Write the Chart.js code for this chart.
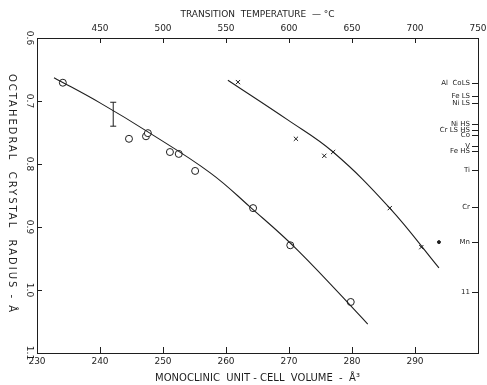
<!DOCTYPE html>
<html>
<head>
<meta charset="utf-8">
<script src="https://cdn.jsdelivr.net/npm/chart.js@4.4.1/dist/chart.umd.min.js"></script>
<style>
  html, body { margin: 0; padding: 0; background: #fff; }
  #wrap { width: 487px; height: 385px; }
</style>
</head>
<body>
<div id="wrap"><canvas id="chart"></canvas></div>
<script>
// open circles and the curve drawn through them
const circleVol = [234.1, 244.6, 247.3, 247.6, 251.1, 252.5, 255.1, 264.3, 270.2, 279.8];
const circleRad = [0.671, 0.760, 0.756, 0.751, 0.781, 0.784, 0.811, 0.870, 0.929, 1.019];
const curve1Vol = [232.7, 240.0, 247.6, 257.5, 263.8, 271.4, 282.5];
const curve1Rad = [0.663, 0.703, 0.749, 0.814, 0.868, 0.937, 1.054];

// crosses and their curve
const crossVol = [261.9, 271.1, 275.6, 277.0, 286.0, 291.0];
const crossRad = [0.670, 0.760, 0.787, 0.781, 0.870, 0.932];
const curve2Vol = [260.3, 269.8, 277.0, 286.0, 293.8];
const curve2Rad = [0.667, 0.730, 0.781, 0.870, 0.965];

// lone filled dot
const dotVol = [293.8];
const dotRad = [0.924];

// error bar
const errVol = [242.1];
const errLow = [0.702];
const errHigh = [0.740];

// axes
const volTicks = [230, 240, 250, 260, 270, 280, 290, 300];
const tempTicks = [400, 450, 500, 550, 600, 650, 700, 750];
const radiusTicks = [0.6, 0.7, 0.8, 0.9, 1.0, 1.1];
const ionLabels = ['Al  CoLS', 'Fe LS', 'Ni LS', 'Ni HS', 'Cr LS HS', 'Co', 'V', 'Fe HS', 'Ti', 'Cr', 'Mn', '11'];
const ionRadius = [0.671, 0.692, 0.703, 0.737, 0.746, 0.754, 0.771, 0.780, 0.810, 0.868, 0.924, 1.003];

const ink = '#1e1e1e';
const font = 'DejaVu Sans';

function pts(xs, ys) {
  return xs.map((v, i) => ({ x: v, y: ys[i] }));
}

// inward tick marks, ion labels, the error bar and the left title
const extras = {
  id: 'extras',
  afterDatasetsDraw(chart) {
    const { ctx, scales } = chart;
    const x = scales.x, xt = scales.xTop, y = scales.y, yr = scales.yIons;
    ctx.save();
    ctx.strokeStyle = ink;
    ctx.lineWidth = 1;
    ctx.beginPath();
    volTicks.forEach(v => {
      const px = Math.round(x.getPixelForValue(v)) + 0.5;
      ctx.moveTo(px, x.top);
      ctx.lineTo(px, x.top - 6);
    });
    tempTicks.forEach(v => {
      const px = Math.round(xt.getPixelForValue(v)) + 0.5;
      ctx.moveTo(px, xt.bottom);
      ctx.lineTo(px, xt.bottom + 5);
    });
    radiusTicks.forEach(v => {
      const py = Math.round(y.getPixelForValue(v)) + 0.5;
      ctx.moveTo(y.right, py);
      ctx.lineTo(y.right + 5, py);
    });
    ionRadius.forEach(v => {
      const py = Math.round(yr.getPixelForValue(v)) + 0.5;
      ctx.moveTo(yr.left, py);
      ctx.lineTo(yr.left - 6, py);
    });
    // error bar
    errVol.forEach((v, i) => {
      const px = x.getPixelForValue(v);
      const p1 = y.getPixelForValue(errLow[i]);
      const p2 = y.getPixelForValue(errHigh[i]);
      ctx.moveTo(px, p1);
      ctx.lineTo(px, p2);
      ctx.moveTo(px - 3, p1);
      ctx.lineTo(px + 3, p1);
      ctx.moveTo(px - 3, p2);
      ctx.lineTo(px + 3, p2);
    });
    ctx.stroke();

    // ion labels sit inside the plot, left of the right axis
    ctx.fillStyle = ink;
    ctx.font = '7px "' + font + '"';
    ctx.textAlign = 'right';
    ctx.textBaseline = 'middle';
    ionRadius.forEach((v, i) => {
      ctx.fillText(ionLabels[i], yr.left - 8, yr.getPixelForValue(v));
    });

    // left axis title reads top to bottom
    ctx.font = '10px "' + font + '"';
    ctx.letterSpacing = '2px';
    ctx.textAlign = 'center';
    ctx.translate(12, 194);
    ctx.rotate(Math.PI / 2);
    ctx.fillText('OCTAHEDRAL  CRYSTAL  RADIUS - Å', 0, 0);
    ctx.restore();
  }
};

const ctx = document.getElementById('chart').getContext('2d');
const chart = new Chart(ctx, {
  type: 'scatter',
  data: {
    datasets: [
      {
        data: pts(curve1Vol, curve1Rad),
        showLine: true,
        pointRadius: 0,
        borderColor: ink,
        borderWidth: 1.1,
        tension: 0.4,
        xAxisID: 'x',
        yAxisID: 'y'
      },
      {
        data: pts(curve2Vol, curve2Rad),
        showLine: true,
        pointRadius: 0,
        borderColor: ink,
        borderWidth: 1.1,
        tension: 0.4,
        xAxisID: 'x',
        yAxisID: 'y'
      },
      {
        data: pts(circleVol, circleRad),
        pointStyle: 'circle',
        pointRadius: 3.5,
        backgroundColor: '#fff',
        borderColor: ink,
        borderWidth: 1,
        xAxisID: 'x',
        yAxisID: 'y'
      },
      {
        data: pts(crossVol, crossRad),
        pointStyle: 'crossRot',
        pointRadius: 3,
        borderColor: ink,
        borderWidth: 1,
        xAxisID: 'x',
        yAxisID: 'y'
      },
      {
        data: pts(dotVol, dotRad),
        pointStyle: 'circle',
        pointRadius: 1.5,
        backgroundColor: ink,
        borderColor: ink,
        xAxisID: 'x',
        yAxisID: 'y'
      }
    ]
  },
  options: {
    responsive: true,
    maintainAspectRatio: false,
    animation: false,
    layout: { padding: 0 },
    plugins: {
      legend: { display: false },
      tooltip: { enabled: false }
    },
    scales: {
      x: {
        type: 'linear',
        position: 'bottom',
        min: 230,
        max: 300,
        afterBuildTicks: s => { s.ticks = volTicks.map(v => ({ value: v })); },
        afterFit: s => { s.height = 32; s.paddingLeft = 0; s.paddingRight = 0; },
        ticks: {
          callback: v => (v === 300 ? '' : v),
          font: { family: font, size: 9 },
          color: ink,
          padding: 3
        },
        grid: { drawOnChartArea: false, drawTicks: false },
        border: { color: ink },
        title: {
          display: true,
          text: 'MONOCLINIC  UNIT - CELL  VOLUME  -  Å³',
          font: { family: font, size: 10 },
          color: ink,
          padding: { top: 0, bottom: 1 }
        }
      },
      xTop: {
        type: 'linear',
        position: 'top',
        min: 400,
        max: 750,
        afterBuildTicks: s => { s.ticks = tempTicks.map(v => ({ value: v })); },
        afterFit: s => { s.height = 38; s.paddingLeft = 0; s.paddingRight = 0; },
        ticks: {
          callback: v => (v === 400 ? '' : v),
          font: { family: font, size: 9 },
          color: ink,
          padding: 4
        },
        grid: { drawOnChartArea: false, drawTicks: false },
        border: { color: ink },
        title: {
          display: true,
          text: 'TRANSITION  TEMPERATURE  — °C',
          font: { family: font, size: 9 },
          color: ink,
          padding: { top: 9, bottom: 0 }
        }
      },
      y: {
        type: 'linear',
        position: 'left',
        min: 0.6,
        max: 1.1,
        reverse: true,
        afterBuildTicks: s => { s.ticks = radiusTicks.map(v => ({ value: v })); },
        afterFit: s => { s.width = 37; },
        ticks: {
          callback: v => v.toFixed(1),
          font: { family: font, size: 9 },
          color: ink,
          minRotation: -90,
          maxRotation: -90,
          crossAlign: 'center',
          padding: 0
        },
        grid: { drawOnChartArea: false, drawTicks: false },
        border: { color: ink }
      },
      yIons: {
        type: 'linear',
        position: 'right',
        min: 0.6,
        max: 1.1,
        reverse: true,
        afterBuildTicks: s => { s.ticks = ionRadius.map(v => ({ value: v })); },
        afterFit: s => { s.width = 9; },
        ticks: { display: false },
        grid: { drawOnChartArea: false, drawTicks: false },
        border: { color: ink }
      }
    }
  },
  plugins: [extras]
});
</script>
</body>
</html>
